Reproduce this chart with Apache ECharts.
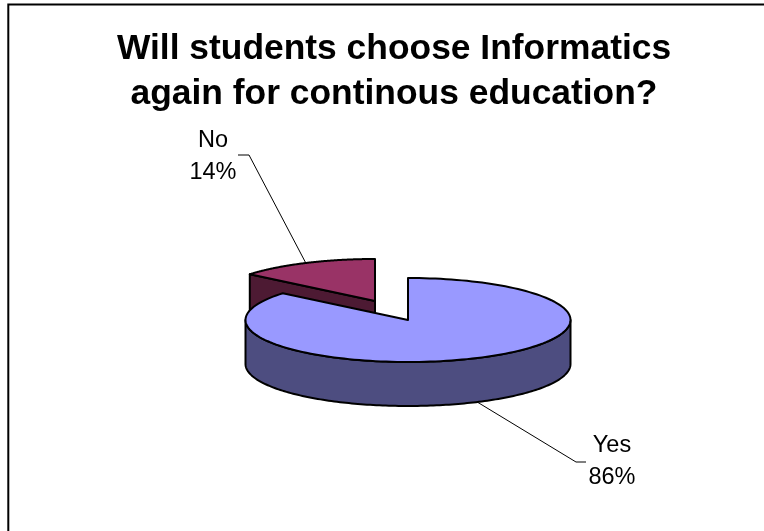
<!DOCTYPE html>
<html>
<head>
<meta charset="utf-8">
<style>html,body{margin:0;padding:0;background:#fff}#c{width:764px;height:531px}</style>
<script src="https://cdn.jsdelivr.net/npm/echarts@6/dist/echarts.min.js"></script>
</head>
<body>
<div id="c"></div>
<script>
var titleLines = ['Will students choose Informatics', 'again for continous education?'];
var categories = ['No', 'Yes'];
var shares = [14, 86];
var percentLabels = ['14%', '86%'];

var topColors = {No: '#993366', Yes: '#9999FF'};
var sideColors = {No: '#4D1A33', Yes: '#4D4D80'};
var layout = {
  No:  {cx: 375, cy: 301, leader: [[238, 155], [249, 155]], text: [213, 156.5]},
  Yes: {cx: 408, cy: 320, leader: [[586, 462], [576, 462]], text: [612, 462]}
};
var rx = 162.5, ry = 42, depth = 44;

var total = shares.reduce(function (a, b) { return a + b; }, 0);
// Angle (clockwise from 12 o'clock) at which each slice starts; Yes starts at 0.
function sliceAngles(name) {
  var yes = shares[categories.indexOf('Yes')] / total * 2 * Math.PI;
  return name === 'Yes' ? [0, yes] : [yes, 2 * Math.PI];
}
function pt(l, a, dy) {
  return [l.cx + rx * Math.sin(a), l.cy - ry * Math.cos(a) + (dy || 0)];
}
function arc(l, a0, a1, dy) {
  var out = [], n = 160;
  for (var i = 0; i <= n; i++) out.push(pt(l, a0 + (a1 - a0) * i / n, dy));
  return out;
}
var edge = {stroke: '#000', lineWidth: 2, lineJoin: 'round'};
function poly(points, fill) {
  return {type: 'polygon', shape: {points: points},
    style: Object.assign({fill: fill}, edge)};
}
function renderItem(params, api) {
  var name = categories[api.value(0)];
  var l = layout[name], ang = sliceAngles(name);
  var a0 = ang[0], a1 = ang[1], apex = [l.cx, l.cy];
  var side = sideColors[name], top = topColors[name];
  var kids = [];
  if (name === 'No') {
    // the cut face that looks towards the viewer
    kids.push(poly([apex, pt(l, a0), pt(l, a0, depth), [l.cx, l.cy + depth]], side));
  } else {
    // front wall: the visible part of the rim, from 3 o'clock round to 9 o'clock
    var f0 = Math.PI / 2, f1 = 3 * Math.PI / 2;
    kids.push(poly(arc(l, f0, f1).concat(arc(l, f0, f1, depth).reverse()), side));
  }
  kids.push(poly([apex].concat(arc(l, a0, a1)), top));
  // leader line from the rim at the middle of the slice
  var mid = (a0 + a1) / 2, anchor = pt(l, mid, Math.cos(mid) < 0 ? depth : 0);
  kids.push({type: 'polyline', shape: {points: l.leader.concat([anchor])},
    style: {stroke: '#000', lineWidth: 1, fill: null}});
  kids.push({type: 'text', style: {
    x: l.text[0], y: l.text[1], text: name + '\n' + percentLabels[api.value(0)],
    align: 'center', verticalAlign: 'middle', textAlign: 'center',
    fontFamily: '"Liberation Sans", Arial, sans-serif', fontSize: 23.5, lineHeight: 32, fill: '#000'
  }});
  return {type: 'group', children: kids};
}

var chart = echarts.init(document.getElementById('c'), null, {renderer: 'canvas'});
chart.setOption({
  animation: false,
  backgroundColor: '#fff',
  title: {
    text: titleLines.join('\n'), left: 389, top: 22, textAlign: 'center',
    textStyle: {fontFamily: '"Liberation Sans", Arial, sans-serif', fontWeight: 'bold',
      fontSize: 35.4, lineHeight: 45, color: '#000'}
  },
  graphic: [{type: 'polyline', shape: {points: [[8.3, 531], [8.3, 4.5], [764, 4.5]]},
    style: {fill: null, stroke: '#000', lineWidth: 2}, silent: true, z: -1}],
  series: [{
    type: 'custom', coordinateSystem: 'none', renderItem: renderItem,
    data: categories.map(function (c, i) { return [i, shares[i]]; })
  }]
});
</script>
</body>
</html>
